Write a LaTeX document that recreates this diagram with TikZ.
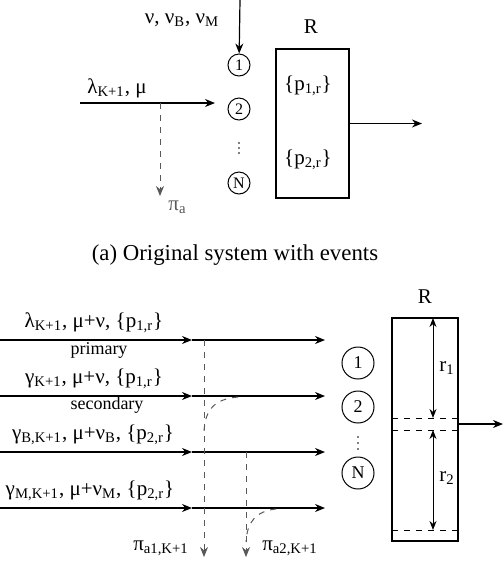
\documentclass[tikz,border=0pt]{standalone}
\usepackage{fontspec}
\setmainfont{Liberation Serif}
\usetikzlibrary{arrows.meta}

\begin{document}
\fontsize{10.5}{12.6}\selectfont
\begin{tikzpicture}[x=.5pt,y=-.5pt,
  flow/.style={-{Stealth[length=5pt,width=4pt]},line width=.6pt},
  absorb/.style={-{Stealth[length=5pt,width=4pt]},dashed,gray!70!black,line width=.5pt},
  srv/.style={circle,draw,line width=.5pt,inner sep=0pt,minimum size=11pt,font=\footnotesize},
  bigsrv/.style={srv,minimum size=16pt,font=\small},
  span/.style={{Stealth[length=4.5pt,width=3.5pt]}-{Stealth[length=4.5pt,width=3.5pt]},line width=.5pt}]
\useasboundingbox (0,0) rectangle (504,564);
% (a) original system
\coordinate (nu) at (240,0);
\node at (182,20) {ν, ν\textsubscript{B}, ν\textsubscript{M}};
\node[srv] (s1) at (239,65) {1};
\node[srv] (s2) at (239,109) {2};
\foreach \d in {143,148,153} \fill (239,\d) circle (.4pt);
\node[srv] (sN) at (239,183) {N};
\draw[flow] (nu)--(s1);
\coordinate (lin) at (80,103);
\coordinate (lout) at (215,103);
\coordinate (lsplit) at (160,103);
\coordinate (pa) at (160,196);
\draw[flow] (lin)--(lout);
\node at (117,88) {λ\textsubscript{K+1}, μ};
\draw[absorb] (lsplit)--(pa);
\node[gray!70!black,anchor=west] at (161,207) {π\textsubscript{a}};
\node[draw,line width=.6pt,minimum width=36.5pt,minimum height=74.5pt] (box) at (312.5,123.5) {};
\node at (311,27) {R};
\node at (308,86) {\{p\textsubscript{1,r}\}};
\node at (308,160) {\{p\textsubscript{2,r}\}};
\coordinate (rout) at (422,123.5);
\draw[flow] (box.east)--(rout);
\node[font=\fontsize{11.4}{13.7}\selectfont] at (235,255) {(a) Original system with events};
% (b) split into classes
\foreach \y/\n in {340/1,396/2,452/3,508/4}{
  \coordinate (in\n) at (0,\y);
  \coordinate (mid\n) at (192,\y);
  \coordinate (out\n) at (325,\y);
  \draw[flow] (in\n)--(mid\n);
  \draw[flow] (mid\n)--(out\n);
}
\node at (94,323) {λ\textsubscript{K+1}, μ+ν, \{p\textsubscript{1,r}\}};
\node[font=\small] at (99,350) {primary};
\node at (94,379) {γ\textsubscript{K+1}, μ+ν, \{p\textsubscript{1,r}\}};
\node[font=\small] at (107,405) {secondary};
\node at (93,435) {γ\textsubscript{B,K+1}, μ+ν\textsubscript{B}, \{p\textsubscript{2,r}\}};
\node at (90,491) {γ\textsubscript{M,K+1}, μ+ν\textsubscript{M}, \{p\textsubscript{2,r}\}};
\coordinate (d1) at (204,340);
\coordinate (e1) at (204,557);
\coordinate (d2) at (246,452);
\coordinate (e2) at (246,557);
\draw[absorb] (d1)--(e1);
\draw[absorb] (d2)--(e2);
\draw[dashed,gray!70!black,line width=.5pt] (238,397) .. controls (214,399) and (205,410) .. (204,432);
\draw[dashed,gray!70!black,line width=.5pt] (276,509) .. controls (256,511) and (247,522) .. (246,542);
\node at (161,548) {π\textsubscript{a1,K+1}};
\node at (290,548) {π\textsubscript{a2,K+1}};
\node[bigsrv] (b1) at (358,363) {1};
\node[bigsrv] (b2) at (358,407) {2};
\foreach \d in {437,443,449} \fill (358,\d) circle (.4pt);
\node[bigsrv] (bN) at (358,473) {N};
\node[draw,line width=.6pt,minimum width=33pt,minimum height=111.5pt] (rbox) at (425,429.5) {};
\node at (425,297) {R};
\coordinate (q1) at (392,418);
\coordinate (q2) at (458,418);
\coordinate (q3) at (392,430);
\coordinate (q4) at (458,430);
\coordinate (q5) at (392,530);
\coordinate (q6) at (458,530);
\draw[dashed,line width=.5pt] (q1)--(q2) (q3)--(q4) (q5)--(q6);
\coordinate (t1) at (433,318);
\coordinate (t2) at (433,418);
\coordinate (t3) at (433,430);
\coordinate (t4) at (433,530);
\draw[span] (t1)--(t2);
\draw[span] (t3)--(t4);
\node at (447,368) {r\textsubscript{1}};
\node at (447,478) {r\textsubscript{2}};
\coordinate (bout) at (503,424);
\draw[flow] (458,424)--(bout);
\end{tikzpicture}
\end{document}
